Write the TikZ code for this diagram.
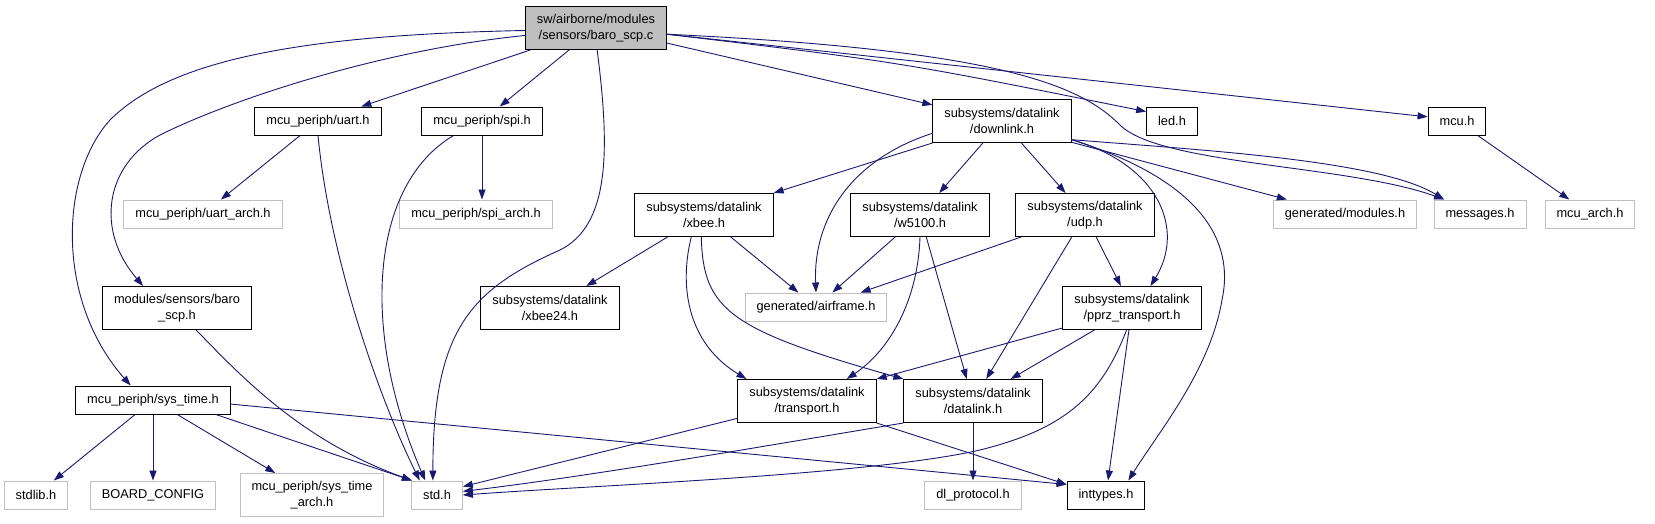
\documentclass[tikz,border=0pt]{standalone}
\usepackage{fontspec}
\setmainfont{Liberation Sans}
\usepackage{tikz}
\usetikzlibrary{arrows.meta}
\definecolor{edgeblue}{HTML}{191970}
\definecolor{grey75}{HTML}{BFBFBF}
\newcommand{\fsz}{\fontsize{12.8}{15.5}\selectfont}

\begin{document}
\begin{tikzpicture}[x=1pt, y=-1pt, every node/.style={draw, align=center, font=\fsz, line width=1pt, inner xsep=11.5pt, inner ysep=3pt, minimum height=28pt},
    tall/.style={minimum height=43pt}, undoc/.style={draw=grey75},
    dep/.style={draw=edgeblue, line width=0.9pt, -{Triangle[length=10pt,width=7pt]}}]
    \useasboundingbox (0,0) rectangle (1655,523);

    % Include Graph
    \node[tall, fill=grey75] (F_ROOT) at (596,28) {sw/airborne/modules\\/sensors/baro\_scp.c};
    \node (F_UART) at (318,121) {mcu\_periph/uart.h};
    \node (F_SPI) at (482,121) {mcu\_periph/spi.h};
    \node[tall] (F_DL) at (1002,121) {subsystems/datalink\\/downlink.h};
    \node (F_LED) at (1172,121) {led.h};
    \node (F_MCU) at (1457,121) {mcu.h};
    \node[undoc] (F_UARTA) at (203,214) {mcu\_periph/uart\_arch.h};
    \node[undoc] (F_SPIA) at (476,214) {mcu\_periph/spi\_arch.h};
    \node[tall] (F_XBEE) at (704,215) {subsystems/datalink\\/xbee.h};
    \node[tall] (F_W5100) at (920,215) {subsystems/datalink\\/w5100.h};
    \node[tall] (F_UDP) at (1085,215) {subsystems/datalink\\/udp.h};
    \node[undoc] (F_GMOD) at (1345,214) {generated/modules.h};
    \node[undoc] (F_MSG) at (1480,214) {messages.h};
    \node[undoc] (F_MCUA) at (1590,214) {mcu\_arch.h};
    \node[tall] (F_BARO) at (177,308) {modules/sensors/baro\\\_scp.h};
    \node[tall] (F_XB24) at (550,308) {subsystems/datalink\\/xbee24.h};
    \node[undoc] (F_AIRF) at (816,307) {generated/airframe.h};
    \node[tall] (F_PPRZ) at (1132,308) {subsystems/datalink\\/pprz\_transport.h};
    \node (F_SYST) at (153,400) {mcu\_periph/sys\_time.h};
    \node[tall] (F_TRANS) at (807,401) {subsystems/datalink\\/transport.h};
    \node[tall] (F_DLNK) at (973,401) {subsystems/datalink\\/datalink.h};
    \node[undoc] (F_STDLIB) at (36,495) {stdlib.h};
    \node[undoc] (F_BOARD) at (153,495) {BOARD\_CONFIG};
    \node[undoc, tall] (F_STA) at (312,495) {mcu\_periph/sys\_time\\\_arch.h};
    \node[undoc] (F_STD) at (437,495) {std.h};
    \node[undoc] (F_DLP) at (973,495) {dl\_protocol.h};
    \node (F_INT) at (1106,495) {inttypes.h};

    % Includes - main file
    \draw[dep] (F_ROOT) -- (F_UART); \draw[dep] (F_ROOT) -- (F_SPI); \draw[dep] (F_ROOT.-12) -- (F_DL);
    \draw[dep] (F_ROOT.-5) .. controls (900,62) .. (F_LED.160); \draw[dep] (F_ROOT.-5) -- (F_MCU.172);
    \draw[dep] (F_ROOT.-5) .. controls (1000,50) and (1080,85) .. (1120,125) .. controls (1160,165) and (1350,165) .. (F_MSG.158);
    \draw[dep] (F_ROOT.182) .. controls (300,35) and (170,60) .. (110,120) .. controls (60,175) and (55,300) .. (F_SYST.147);
    \draw[dep] (F_ROOT.186) .. controls (380,50) and (230,100) .. (160,135) .. controls (105,165) and (95,230) .. (F_BARO.147);
    \draw[dep] (F_ROOT.-87) .. controls (610,150) and (610,225) .. (560,250) .. controls (470,290) and (433,330) .. (F_STD.106);

    \draw[dep] (F_UART) -- (F_UARTA); \draw[dep] (F_UART.south) .. controls (330,260) and (380,400) .. (F_STD.140);
    \draw[dep] (F_SPI.south) -- (F_SPI.south |- F_SPIA.north); \draw[dep] (F_SPI.207) .. controls (370,185) and (360,330) .. (F_STD.129);
    \draw[dep] (F_MCU) -- (F_MCUA);

    % downlink
    \draw[dep] (F_DL.south west) -- (F_XBEE.north east); \draw[dep] (F_DL) -- (F_W5100); \draw[dep] (F_DL) -- (F_UDP);
    \draw[dep] (F_DL.190) .. controls (850,160) and (813,220) .. (F_AIRF.north); \draw[dep] (F_DL.-17) -- (F_GMOD.166);
    \draw[dep] (F_DL.-15) .. controls (1200,150) and (1380,160) .. (F_MSG.158);
    \draw[dep] (F_DL.-15) .. controls (1160,165) and (1185,230) .. (F_PPRZ.50);
    \draw[dep] (F_DL.-15) .. controls (1200,180) and (1235,240) .. (1222,300) .. controls (1210,370) and (1160,430) .. (F_INT.33);

    % xbee, w5100, udp
    \draw[dep] (F_XBEE) -- (F_XB24); \draw[dep] (F_XBEE) -- (F_AIRF);
    \draw[dep] (F_XBEE.240) .. controls (678,290) and (690,345) .. (F_TRANS.160);
    \draw[dep] (F_XBEE.263) .. controls (703,310) and (730,330) .. (F_DLNK.north west);
    \draw[dep] (F_W5100) -- (F_AIRF); \draw[dep] (F_W5100) -- (F_DLNK);
    \draw[dep] (F_W5100.south) .. controls (918,300) and (890,350) .. (F_TRANS.29);
    \draw[dep] (F_UDP.199) -- (F_AIRF.18); \draw[dep] (F_UDP) -- (F_DLNK); \draw[dep] (F_UDP) -- (F_PPRZ);

    % pprz, transport, datalink
    \draw[dep] (F_PPRZ.196) -- (F_TRANS.north east); \draw[dep] (F_PPRZ) -- (F_DLNK); \draw[dep] (F_PPRZ) -- (F_INT);
    \draw[dep] (F_PPRZ.256) .. controls (1100,400) and (1060,430) .. (980,450) .. controls (870,475) and (600,485) .. (F_STD.0);
    \draw[dep] (F_TRANS.194) -- (F_STD.18); \draw[dep] (F_TRANS.south east) -- (F_INT.165);
    \draw[dep] (F_DLNK.south west) .. controls (800,440) and (600,475) .. (F_STD.8); \draw[dep] (F_DLNK) -- (F_DLP);

    % sys_time, baro
    \draw[dep] (F_SYST) -- (F_STDLIB); \draw[dep] (F_SYST) -- (F_BOARD); \draw[dep] (F_SYST) -- (F_STA);
    \draw[dep] (F_SYST.-13) -- (F_STD.150); \draw[dep] (F_SYST.-3) -- (F_INT.165);
    \draw[dep] (F_BARO.-49) .. controls (240,375) and (300,440) .. (F_STD.150);
\end{tikzpicture}
\end{document}
